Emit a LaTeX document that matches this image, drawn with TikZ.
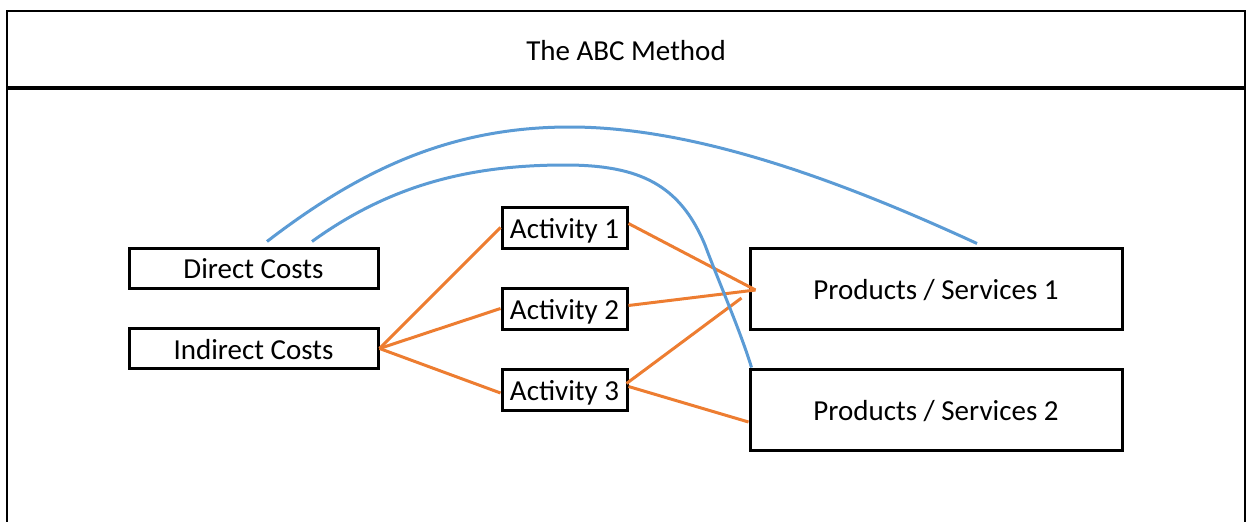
\documentclass[tikz,border=0pt]{standalone}
\usepackage{fontspec}
\setmainfont{Carlito}
\usetikzlibrary{calc}

\definecolor{linkorange}{HTML}{ED7D31}
\definecolor{linkblue}{HTML}{5B9BD5}

\tikzset{
  label text/.style={font=\fontsize{29}{33}\selectfont, text height=21pt, text depth=0pt},
  costbox/.style={draw=black, line width=3pt, fill=white, inner sep=0pt,
    minimum width=249pt, minimum height=40pt, label text},
  actbox/.style={costbox, minimum width=125pt, minimum height=41pt},
  prodbox/.style={costbox, minimum width=372pt, minimum height=81pt},
  allocation/.style={draw=linkorange, line width=3pt},
  direct/.style={draw=linkblue, line width=3pt},
  frameline/.style={draw=black, line width=2.2pt},
}

\begin{document}
\begin{tikzpicture}[x=1pt, y=-1pt]
  \useasboundingbox (0,0) rectangle (1248,522);

  % outer frame and title band
  \draw[frameline] (7,522) -- (7,11) -- (1245,11) -- (1245,522);
  \draw[black, line width=3.5pt] (7,88) -- (1245,88);
  \node[label text, inner sep=0pt] (title) at (626,50) {The ABC Method};

  % cost pools
  \node[costbox] (direct)   at (253.5,268)   {Direct Costs};
  \node[costbox] (indirect) at (253.5,348.5) {Indirect Costs};

  % activities
  \node[actbox] (act1) at (564.5,227.5) {Activity 1};
  \node[actbox] (act2) at (564.5,308.5) {Activity 2};
  \node[actbox] (act3) at (564.5,389.5) {Activity 3};

  % cost objects
  \node[prodbox] (p1) at (936,288.5) {Products / Services 1};
  \node[prodbox] (p2) at (936,409.5) {Products / Services 2};

  % anchor points for the links
  \coordinate (hub)  at ($(p1.west)+(7,1.5)$);
  \coordinate (stub) at ($(p1.west)+(-7,9.5)$);
  \coordinate (d1) at ($(direct.north)+(13.5,-5)$);
  \coordinate (d2) at ($(direct.north)+(58.5,-5)$);
  \coordinate (e1) at ($(p1.north)+(41,-3)$);
  \coordinate (e2) at ($(p2.north west)+(3,0)$);

  % indirect costs assigned through activities
  \draw[allocation] (indirect.east) -- (act1.west);
  \draw[allocation] (indirect.east) -- (act2.west);
  \draw[allocation] (indirect.east) -- ([yshift=-3.5pt]act3.west);
  \draw[allocation] ([yshift=4pt]act1.east) -- (hub);
  \draw[allocation] ([yshift=3pt]act2.east) -- (hub);
  \draw[allocation] ([xshift=-2pt,yshift=6pt]act3.east) -- (stub);
  \draw[allocation] ([yshift=3pt]act3.east) -- ([yshift=-12.5pt]p2.west);

  % direct costs traced straight to products
  \draw[direct] (d1) .. controls (360,170) and (450,127) .. (570,127)
                     .. controls (700,127) and (850,185) .. (e1);
  \draw[direct] (d2) .. controls (390,185) and (470,165) .. (565,165)
                     .. controls (640,165) and (680,185) .. (705,245)
                     .. controls (720,285) and (740,330) .. (e2);
\end{tikzpicture}
\end{document}
